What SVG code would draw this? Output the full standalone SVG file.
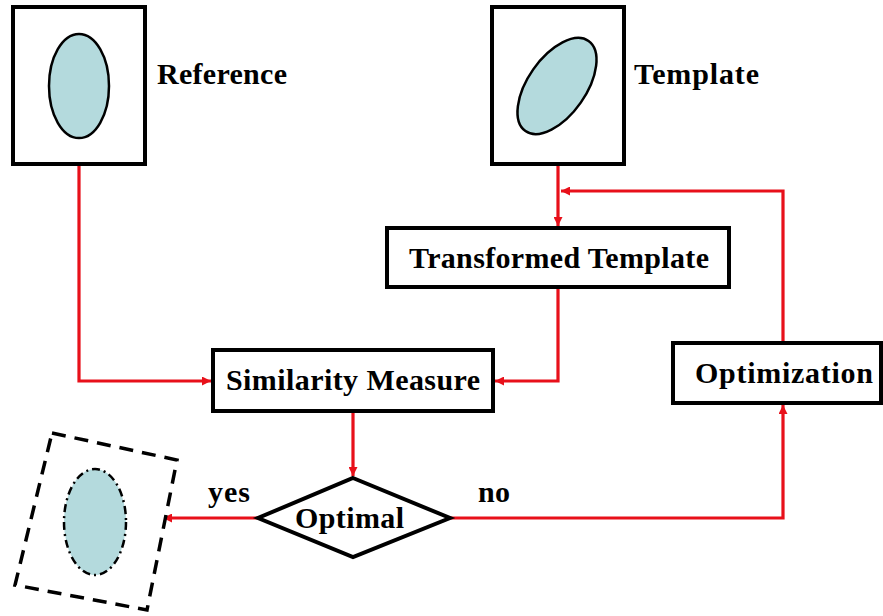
<svg xmlns="http://www.w3.org/2000/svg" width="883" height="616" viewBox="0 0 883 616">
<defs>
<style>
.box{fill:#fff;stroke:#000;stroke-width:4}
.ell{fill:#b4dadd;stroke:#000;stroke-width:2.5}
.lbl{font-family:"Liberation Serif","Times New Roman",serif;font-weight:bold;font-size:30px;fill:#000}
.con{fill:none;stroke:#e8101a;stroke-width:3.2}
</style>
<marker id="ah" viewBox="0 0 10 10" refX="10" refY="5" markerWidth="12" markerHeight="9" markerUnits="userSpaceOnUse" orient="auto">
<path d="M0,0 L10,5 L0,10 z" fill="#e8101a"/>
</marker>
</defs>
<rect width="883" height="616" fill="#fff"/>
<g id="connectors">
<polyline class="con" points="79,166 79,381 211,381" marker-end="url(#ah)"/>
<line class="con" x1="558" y1="166" x2="558" y2="226" marker-end="url(#ah)"/>
<polyline class="con" points="783,343 783,191 561,191" marker-end="url(#ah)"/>
<polyline class="con" points="558,289 558,381 495,381" marker-end="url(#ah)"/>
<line class="con" x1="353" y1="413" x2="353" y2="476" marker-end="url(#ah)"/>
<line class="con" x1="258" y1="518" x2="163" y2="518" marker-end="url(#ah)"/>
<polyline class="con" points="450,518 783,518 783,405" marker-end="url(#ah)"/>
</g>
<g id="reference">
<rect class="box" x="13" y="7" width="132" height="157"/>
<ellipse class="ell" cx="79" cy="86" rx="30" ry="52"/>
<text class="lbl" x="157" y="84" textLength="130">Reference</text>
</g>
<g id="template">
<rect class="box" x="492" y="7" width="132" height="157"/>
<ellipse class="ell" cx="557" cy="86" rx="29" ry="55" transform="rotate(35 557 86)"/>
<text class="lbl" x="634" y="84" textLength="125">Template</text>
</g>
<g id="transformed">
<rect class="box" x="387" y="228" width="342" height="59"/>
<text class="lbl" x="409" y="268" textLength="300">Transformed Template</text>
</g>
<g id="similarity">
<rect class="box" x="213" y="350" width="280" height="61"/>
<text class="lbl" x="226" y="390" textLength="254">Similarity Measure</text>
</g>
<g id="optimization">
<rect class="box" x="673" y="343" width="208" height="60"/>
<text class="lbl" x="695" y="383" textLength="178">Optimization</text>
</g>
<g id="optimal">
<polygon points="353,478 450,518 353,557 258,518" fill="#fff" stroke="#000" stroke-width="4"/>
<text class="lbl" x="295" y="528" textLength="109">Optimal</text>
</g>
<g id="result">
<polygon points="52,433 177,460 147,610 15,585" fill="#fff" stroke="#000" stroke-width="3.5" stroke-dasharray="14,9"/>
<ellipse cx="95" cy="522" rx="31" ry="53" fill="#b4dadd" stroke="#000" stroke-width="2.5" stroke-dasharray="8,4,2,4"/>
</g>
<text class="lbl" x="208" y="502" textLength="42">yes</text>
<text class="lbl" x="478" y="502" textLength="32">no</text>
</svg>
